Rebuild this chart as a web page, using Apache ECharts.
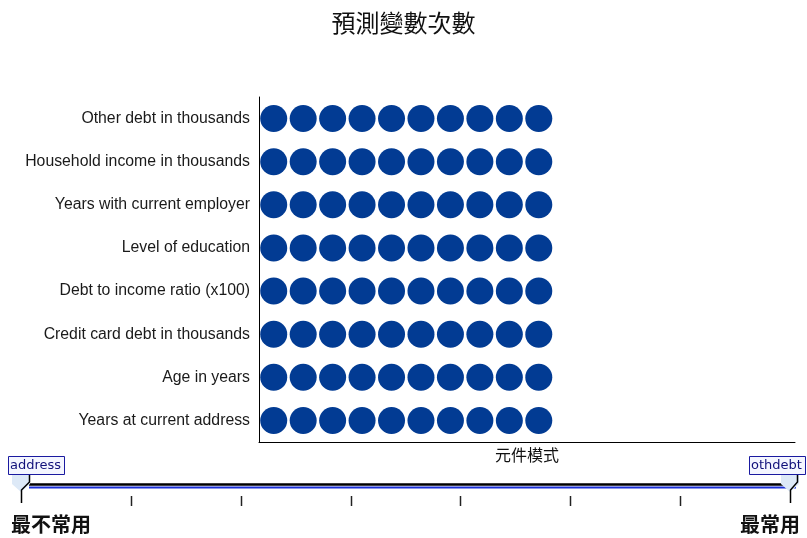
<!DOCTYPE html>
<html>
<head>
<meta charset="utf-8">
<script src="https://cdn.jsdelivr.net/npm/echarts@6/dist/echarts.min.js"></script>
<style>html,body{margin:0;padding:0;background:#fff}#c{width:807px;height:538px}</style>
</head>
<body>
<div id="c"></div>
<script>
// Predictors (bottom to top as drawn)
const categories = [
  "Years at current address",
  "Age in years",
  "Credit card debt in thousands",
  "Debt to income ratio (x100)",
  "Level of education",
  "Years with current employer",
  "Household income in thousands",
  "Other debt in thousands"
];
// Number of component models each predictor appears in
const counts = [10, 10, 10, 10, 10, 10, 10, 10];
const leastLabel = "address";
const mostLabel = "othdebt";
const sliderTicks = [1, 2, 3, 4, 5, 6];

const points = [];
categories.forEach((c, ci) => {
  for (let i = 1; i <= counts[ci]; i++) points.push([i, c]);
});

const chart = echarts.init(document.getElementById('c'), null, {renderer: 'canvas'});

const sx0 = 21, sx1 = 790;
const step = (sx1 - sx0) / 7;
const graphics = [];
graphics.push({type: 'line', shape: {x1: 29, y1: 487.5, x2: 796, y2: 487.5}, style: {stroke: '#1a2fd6', lineWidth: 2}});
graphics.push({type: 'line', shape: {x1: 29, y1: 484.5, x2: 796, y2: 484.5}, style: {stroke: '#000', lineWidth: 2.5}});
sliderTicks.forEach(t => {
  const x = Math.round(sx0 + step * t) + 0.5;
  graphics.push({type: 'line', shape: {x1: x, y1: 496, x2: x, y2: 506}, style: {stroke: '#222', lineWidth: 1.5}});
});
graphics.push({type: 'polygon', shape: {points: [[12, 474], [30, 474], [30, 484], [21, 492], [12, 484]]}, style: {fill: '#dde9f7'}});
graphics.push({type: 'polyline', shape: {points: [[29.5, 475], [29.5, 482], [21.5, 490], [21.5, 503]]}, style: {stroke: '#000', lineWidth: 1.5, fill: null}});
graphics.push({type: 'polygon', shape: {points: [[781, 474], [799, 474], [799, 484], [790, 492], [781, 484]]}, style: {fill: '#dde9f7'}});
graphics.push({type: 'polyline', shape: {points: [[797.5, 475], [797.5, 482], [790.5, 490], [790.5, 503]]}, style: {stroke: '#000', lineWidth: 1.5, fill: null}});
graphics.push({type: 'rect', shape: {x: 8.5, y: 456.5, width: 56, height: 18}, style: {fill: '#f4f6ff', stroke: '#1a1aa0', lineWidth: 1}});
graphics.push({type: 'text', left: 10, top: 459, style: {text: leastLabel, fill: '#10107a', font: '13px "DejaVu Sans"'}});
graphics.push({type: 'rect', shape: {x: 749.5, y: 456.5, width: 56, height: 18}, style: {fill: '#f4f6ff', stroke: '#1a1aa0', lineWidth: 1}});
graphics.push({type: 'text', left: 751, top: 459, style: {text: mostLabel, fill: '#10107a', font: '13px "DejaVu Sans"'}});
graphics.push({type: 'text', left: 11, top: 514, style: {text: '最不常用', fill: '#111', font: 'bold 20px "Noto Sans CJK TC"'}});
graphics.push({type: 'text', right: 7, top: 514, style: {text: '最常用', fill: '#111', font: 'bold 20px "Noto Sans CJK TC"'}});

chart.setOption({
  animation: false,
  backgroundColor: '#fff',
  title: {
    text: '預測變數次數', left: 'center', top: 6,
    textStyle: {fontFamily: '"Noto Sans CJK TC"', fontSize: 24, fontWeight: 'normal', color: '#111'}
  },
  grid: {left: 259, right: 12, top: 97, bottom: 96, containLabel: false},
  xAxis: {
    type: 'value', min: 0.5, max: 18.7,
    name: '元件模式', nameLocation: 'middle', nameGap: 5,
    nameTextStyle: {fontFamily: '"Noto Sans CJK TC"', fontSize: 16, color: '#111', verticalAlign: 'top'},
    axisLine: {show: true, lineStyle: {color: '#000', width: 1}},
    axisTick: {show: false}, axisLabel: {show: false}, splitLine: {show: false}
  },
  yAxis: {
    type: 'category', data: categories, boundaryGap: true,
    axisLine: {show: true, lineStyle: {color: '#000', width: 1}},
    axisTick: {show: false},
    axisLabel: {fontFamily: '"Liberation Sans", Arial', fontSize: 15.8, color: '#1a1a1a', margin: 9},
    splitLine: {show: false}
  },
  series: [{
    type: 'scatter', data: points, symbol: 'circle', symbolSize: 27,
    itemStyle: {color: '#023b93', opacity: 1}
  }],
  graphic: graphics
});
</script>
</body>
</html>
